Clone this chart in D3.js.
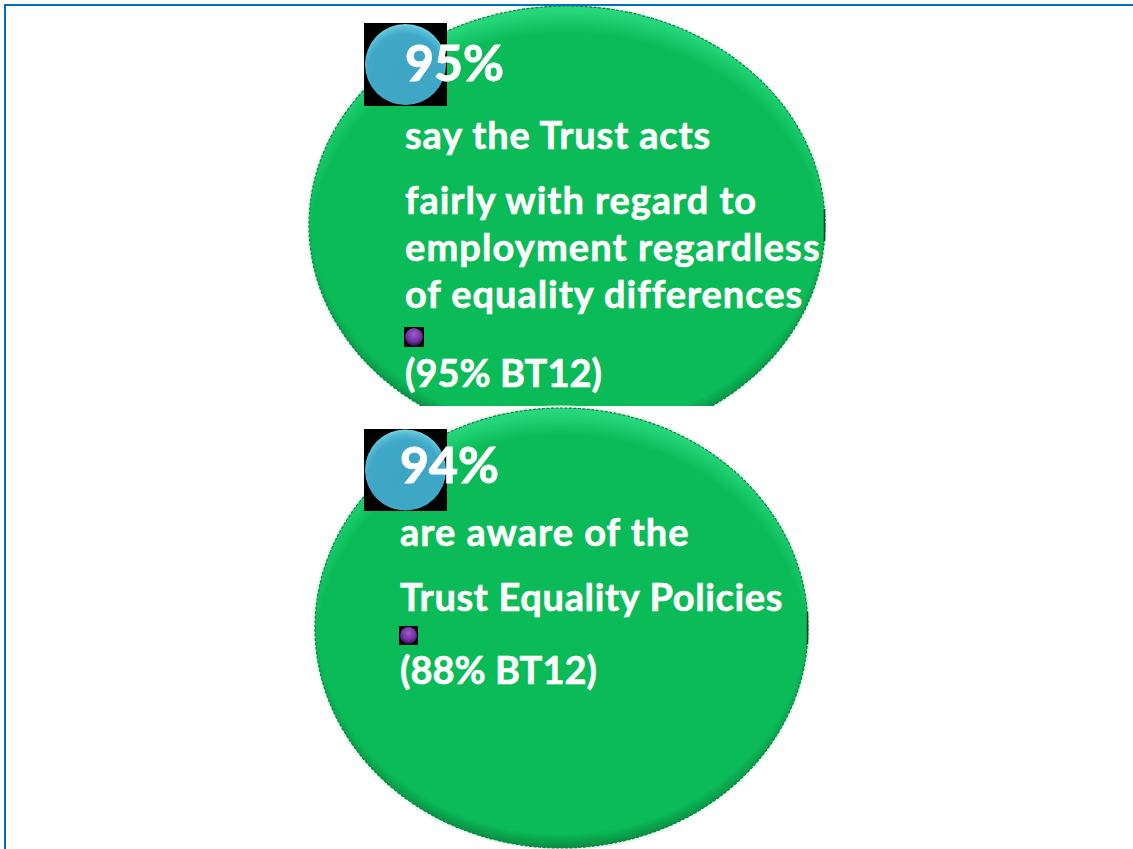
<!DOCTYPE html>
<html>
<head>
<meta charset="utf-8">
<script src="https://cdn.jsdelivr.net/npm/d3@7"></script>
<style>
  html, body { margin: 0; padding: 0; background: #fff; overflow: hidden; }
  text { font-family: Lato, "Open Sans", sans-serif; font-weight: 700; fill: #fff; stroke: #fff; stroke-width: 0.6px; }
</style>
</head>
<body>
<div id="chart"></div>
<script>
const percentages = ['95%', '94%'];
const captions = [
  ['say the Trust acts', 'fairly with regard to', 'employment regardless', 'of equality differences'],
  ['are aware of the', 'Trust Equality Policies'],
];
const comparisons = ['(95% BT12)', '(88% BT12)'];

const width = 1133;
const height = 849;

// layout of each panel
const panels = [
  {
    cx: 567, cy: 225, rx: 258, ry: 219, clipBottom: 406,
    textX: 405, iconY: 23, iconH: 83, pctY: 81,
    lineY: [149, 214, 261, 308], lineSpacing: [0.85, 0.95, 1.1, 0.95],
    dotX: 404, dotY: 327, dotS: 20, cmpY: 387,
  },
  {
    cx: 561.5, cy: 628, rx: 246.5, ry: 220, clipBottom: height,
    textX: 400, iconY: 429, iconH: 82, pctY: 483,
    lineY: [546, 611], lineSpacing: [1, 0.65],
    dotX: 399, dotY: 626, dotS: 19, cmpY: 684,
  },
];

const svg = d3.select('#chart').append('svg')
    .attr('width', width)
    .attr('height', height)
    .style('display', 'block');

const defs = svg.append('defs');

function addGradient(id, pos, stops) {
  const grad = defs.append('radialGradient')
      .attr('id', id)
      .attr('cx', pos[0])
      .attr('cy', pos[1])
      .attr('r', pos[2]);
  stops.forEach((s) => {
    grad.append('stop')
        .attr('offset', s[0])
        .attr('stop-color', s[1])
        .attr('stop-opacity', s[2] === undefined ? 1 : s[2]);
  });
}

// lit rim on top, shaded rim at the bottom
addGradient('rimLight', [0.5, 0.56, 0.56], [[0.89, '#2fe088', 0], [0.975, '#2fe088', 0.7], [1, '#2fe088', 0.8]]);
addGradient('rimDark', [0.5, 0.47, 0.53], [[0.94, '#067a38', 0], [1, '#067a38', 0.7]]);
addGradient('blue', [0.5, 0.58, 0.58], [[0, '#3da4c3'], [0.78, '#40a8c7'], [0.92, '#55bdd5'], [1, '#78d4e4']]);
addGradient('purple', [0.5, 0.35, 0.6], [[0, '#9a5cc8'], [0.7, '#7030a0'], [1, '#3c1560']]);

panels.forEach((p, i) => {
  defs.append('clipPath').attr('id', `clip-${i}`)
      .append('rect')
      .attr('x', 0)
      .attr('y', 0)
      .attr('width', width)
      .attr('height', p.clipBottom);
});

const groups = svg.selectAll('g.panel')
    .data(panels)
    .enter()
    .append('g')
    .attr('class', 'panel');

const bubbles = groups.append('g')
    .attr('clip-path', (d, i) => `url(#clip-${i})`);

function addEllipse(fill) {
  return bubbles.append('ellipse')
      .attr('cx', (d) => d.cx)
      .attr('cy', (d) => d.cy)
      .attr('rx', (d) => d.rx)
      .attr('ry', (d) => d.ry)
      .attr('fill', fill);
}

// pale halo round the bubble
addEllipse('none').attr('stroke', '#e6fbef').attr('stroke-width', 5);
addEllipse('#0abb57');
addEllipse('url(#rimLight)');
addEllipse('url(#rimDark)');
addEllipse('none')
    .attr('stroke', '#1c7a48')
    .attr('stroke-width', 1.2)
    .attr('stroke-dasharray', '3 1.5');

// dark notch at the rightmost point of the rim
bubbles.append('line')
    .attr('x1', (d) => d.cx + d.rx - 0.5)
    .attr('x2', (d) => d.cx + d.rx - 0.5)
    .attr('y1', (d) => d.cy - 16)
    .attr('y2', (d) => d.cy + 16)
    .attr('stroke', '#0c3f25')
    .attr('stroke-width', 1.5);

// black square behind the blue ball
groups.append('rect')
    .attr('x', 364)
    .attr('y', (d) => d.iconY)
    .attr('width', 83)
    .attr('height', (d) => d.iconH)
    .attr('fill', '#000');
groups.append('circle')
    .attr('cx', 405.5)
    .attr('cy', (d) => d.iconY + d.iconH / 2)
    .attr('r', 40.5)
    .attr('fill', 'url(#blue)');

groups.append('text')
    .attr('x', (d) => d.textX)
    .attr('y', (d) => d.pctY)
    .attr('font-size', 50)
    .style('stroke-width', '1px')
    .text((d, i) => percentages[i]);

groups.each(function(p, i) {
  d3.select(this).selectAll('text.line')
      .data(captions[i])
      .enter()
      .append('text')
      .attr('class', 'line')
      .attr('x', p.textX)
      .attr('y', (d, j) => p.lineY[j])
      .attr('font-size', 38)
      .attr('letter-spacing', (d, j) => p.lineSpacing[j])
      .text((d) => d);
});

groups.append('rect')
    .attr('x', (d) => d.dotX)
    .attr('y', (d) => d.dotY)
    .attr('width', (d) => d.dotS)
    .attr('height', (d) => d.dotS)
    .attr('fill', '#05050a');
groups.append('circle')
    .attr('cx', (d) => d.dotX + d.dotS / 2)
    .attr('cy', (d) => d.dotY + d.dotS / 2)
    .attr('r', (d) => d.dotS / 2 - 1)
    .attr('fill', 'url(#purple)');

groups.append('text')
    .attr('x', (d) => d.textX)
    .attr('y', (d) => d.cmpY)
    .attr('font-size', 38)
    .text((d, i) => comparisons[i]);

// frame, top and left only
svg.append('line')
    .attr('x1', 4).attr('y1', 5).attr('x2', width).attr('y2', 5)
    .attr('stroke', '#0070c0').attr('stroke-width', 2);
svg.append('line')
    .attr('x1', 5).attr('y1', 4).attr('x2', 5).attr('y2', height)
    .attr('stroke', '#0070c0').attr('stroke-width', 2);
</script>
</body>
</html>
